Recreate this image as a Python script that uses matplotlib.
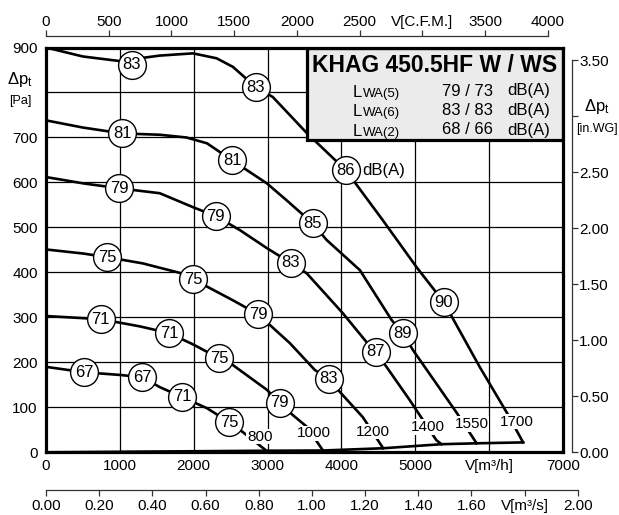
import matplotlib
matplotlib.use('Agg')
import matplotlib.pyplot as plt
from matplotlib.patches import Rectangle

# KHAG 450.5HF W / WS fan curves, V in m3/h, dp_t in Pa
rpm = [800, 1000, 1200, 1400, 1550, 1700]

v_800 = [0, 515, 1000, 1300, 1540, 1840, 2180, 2480, 2625, 2985]
p_800 = [190, 178, 172, 167, 145, 123, 98, 67, 50, 3.5]

v_1000 = [0, 740, 1270, 1665, 1990, 2345, 2530, 2990, 3165, 3340, 3530, 3750]
p_1000 = [303, 296, 280, 265, 240, 209, 194, 139, 110, 83, 57, 4]

v_1200 = [0, 500, 825, 1310, 1810, 1990, 2530, 2870, 3300, 3640, 3830, 3980, 4290, 4565]
p_1200 = [451, 442, 434, 420, 399, 385, 338, 307, 243, 183, 163, 134, 78, 9]

v_1400 = [0, 500, 988, 1540, 1990, 2300, 2625, 2990, 3315, 3530, 4020, 4340, 4465, 4610, 4925, 5285, 5355]
p_1400 = [612, 598, 587, 576, 545, 525, 494, 454, 421, 398, 309, 245, 223, 190, 116, 27, 18]

v_1550 = [0, 500, 1030, 1540, 1900, 2180, 2520, 2990, 3260, 3610, 3800, 4250, 4680, 4830, 4970, 5560, 5830]
p_1550 = [738, 722, 709, 706, 700, 687, 649, 598, 560, 509, 472, 405, 294, 265, 227, 88, 20]

v_1700 = [0, 500, 990, 1540, 1990, 2310, 2530, 2840, 3070, 3300, 3530, 4060, 4560, 5020, 5385, 5875, 6240, 6460]
p_1700 = [900, 880, 870, 882, 887, 876, 857, 812, 790, 750, 710, 627, 516, 411, 334, 189, 88, 22]

# system line through the curve ends
sys_v = [0, 2985, 3750, 4565, 5355, 5830, 6460]
sys_p = [0, 3.5, 4, 9, 18, 20, 22]

# sound power markers (dB(A)) on each curve
db_800, db_800_v, db_800_p = [67, 67, 71, 75], [515, 1300, 1840, 2480], [178, 167, 123, 67]
db_1000, db_1000_v, db_1000_p = [71, 71, 75, 79], [740, 1665, 2345, 3165], [296, 265, 209, 110]
db_1200, db_1200_v, db_1200_p = [75, 75, 79, 83], [825, 1990, 2870, 3830], [434, 385, 307, 163]
db_1400, db_1400_v, db_1400_p = [79, 79, 83, 87], [988, 2300, 3315, 4465], [587, 525, 421, 223]
db_1550, db_1550_v, db_1550_p = [81, 81, 85, 89], [1030, 2520, 3615, 4830], [709, 649, 509, 265]
db_1700, db_1700_v, db_1700_p = [83, 83, 86, 90], [1164, 2842, 4060, 5385], [862, 812, 627, 334]

# rpm label positions
rpm_label_v = [2896, 3626, 4430, 5175, 5760, 6380]
rpm_label_p = [35, 42, 46, 56, 63, 68]

# legend table
title = 'KHAG 450.5HF W / WS'
lwa_names = ['(5)', '(6)', '(2)']
lwa_values = ['79 / 73', '83 / 83', '68 / 66']

# unit conversions
CFM = 1.699        # m3/h per CFM
M3S = 3600.0       # m3/h per m3/s
INWG = 249.09      # Pa per in.WG

plt.rcParams.update({
    'font.family': ['Liberation Sans', 'DejaVu Sans'],
    'font.size': 11,
    'mathtext.default': 'regular',
})

W, H = 619, 515
fig = plt.figure(figsize=(W / 100, H / 100), dpi=100)


def box(l, t, r, b):
    return [l / W, 1 - b / H, (r - l) / W, (b - t) / H]


X0, X1, Y0, Y1 = 46, 563, 452.3, 47.5
ax = fig.add_axes(box(X0, Y1, X1, Y0))
ax.set_xlim(0, 7000)
ax.set_ylim(0, 900)

ax.set_xticks(range(0, 7001, 1000))
ax.set_xticklabels(['0', '1000', '2000', '3000', '4000', '5000', 'V[m³/h]', '7000'])
ax.set_yticks(range(0, 901, 100))
ax.set_yticklabels(['0', '100', '200', '300', '400', '500', '600', '700', '', '900'])
ax.tick_params(axis='x', length=0, pad=5)
ax.tick_params(axis='y', length=0, pad=6)
ax.grid(True, color='black', linewidth=0.9)
ax.set_axisbelow(True)
for s in ax.spines.values():
    s.set_linewidth(2.3)
    s.set_zorder(10)

curves = [(v_800, p_800), (v_1000, p_1000), (v_1200, p_1200),
          (v_1400, p_1400), (v_1550, p_1550), (v_1700, p_1700)]
for v, p in curves:
    ax.plot(v, p, color='black', linewidth=1.9, solid_joinstyle='round', zorder=2)
ax.plot(sys_v, sys_p, color='black', linewidth=1.9, zorder=2)

dbs = [(db_800, db_800_v, db_800_p), (db_1000, db_1000_v, db_1000_p),
       (db_1200, db_1200_v, db_1200_p), (db_1400, db_1400_v, db_1400_p),
       (db_1550, db_1550_v, db_1550_p), (db_1700, db_1700_v, db_1700_p)]
for vals, v, p in dbs:
    ax.plot(v, p, 'o', ms=20, mfc='white', mec='black', mew=1.0, zorder=3)
    for val, x, y in zip(vals, v, p):
        ax.text(x, y, str(val), ha='center', va='center', fontsize=12, zorder=4)
ax.annotate('dB(A)', xy=(db_1700_v[2], db_1700_p[2]), xytext=(11.5, 0),
            textcoords='offset points', ha='left', va='center', fontsize=12, zorder=4)

for n, x, y in zip(rpm, rpm_label_v, rpm_label_p):
    ax.text(x, y, str(n), ha='center', va='center', fontsize=11, zorder=4,
            bbox=dict(boxstyle='square,pad=0.05', fc='white', ec='none'))

# legend table
ax.add_patch(Rectangle((0.505, 0.771), 0.495, 0.229, transform=ax.transAxes,
                       fc='#ebebeb', ec='black', lw=2.3, zorder=6))
fig.text(435 / W, 1 - 66 / H, title, ha='center', va='center',
         fontsize=16.5, fontweight='bold', zorder=7)
for i, (name, val) in enumerate(zip(lwa_names, lwa_values)):
    y = 1 - (91 + 19.5 * i) / H
    fig.text(353 / W, y, 'L', ha='left', va='baseline', fontsize=12,
             transform=fig.transFigure).set_y(y - 6 / H)
    fig.text(362.5 / W, y - 6 / H, 'WA' + name, ha='left', va='baseline', fontsize=9.5)
    fig.text(442 / W, y, val, ha='left', va='center', fontsize=12)
    fig.text(507 / W, y, 'dB(A)', ha='left', va='center', fontsize=12)


def side_axis(rect):
    a = fig.add_axes(rect)
    a.patch.set_visible(False)
    for s in a.spines.values():
        s.set_visible(False)
    return a


# top axis: C.F.M.
ax_cfm = side_axis(box(X0, 36, X0 + (X1 - X0) * 4000 * CFM / 7000, 36.01))
ax_cfm.set_xlim(0, 4000)
ax_cfm.set_yticks([])
ax_cfm.spines['top'].set_visible(True)
ax_cfm.spines['top'].set_linewidth(0.9)
ax_cfm.spines['top'].set_color('#333333')
ax_cfm.xaxis.set_ticks_position('top')
ax_cfm.set_xticks(range(0, 4001, 500))
ax_cfm.set_xticklabels(['0', '500', '1000', '1500', '2000', '2500', 'V[C.F.M.]', '3500', '4000'])
ax_cfm.tick_params(axis='x', direction='out', length=4.3, width=0.9, color='#333333', pad=1)

# bottom axis: m3/s
ax_m3s = side_axis(box(X0, 490, X0 + (X1 - X0) * 2.0 * M3S / 7000, 490.01))
ax_m3s.set_xlim(0, 2.0)
ax_m3s.set_yticks([])
ax_m3s.spines['bottom'].set_visible(True)
ax_m3s.spines['bottom'].set_linewidth(0.9)
ax_m3s.spines['bottom'].set_color('#333333')
m3s_ticks = [0.0, 0.2, 0.4, 0.6, 0.8, 1.0, 1.2, 1.4, 1.6, 1.8, 2.0]
ax_m3s.set_xticks(m3s_ticks)
ax_m3s.set_xticklabels([f'{t:.2f}' for t in m3s_ticks[:9]] + ['V[m³/s]', '2.00'])
ax_m3s.tick_params(axis='x', direction='out', length=4.3, width=0.9, color='#333333', pad=2)

# right axis: in.WG
ax_wg = side_axis(box(572, Y0 - (Y0 - Y1) * 3.5 * INWG / 900, 572.01, Y0))
ax_wg.set_ylim(0, 3.5)
ax_wg.set_xticks([])
ax_wg.spines['right'].set_visible(True)
ax_wg.spines['right'].set_linewidth(0.9)
ax_wg.spines['right'].set_color('#333333')
ax_wg.yaxis.set_ticks_position('right')
wg_ticks = [0.0, 0.5, 1.0, 1.5, 2.0, 2.5, 3.0, 3.5]
ax_wg.set_yticks(wg_ticks)
ax_wg.set_yticklabels([f'{t:.2f}' if t != 3.0 else '' for t in wg_ticks])
ax_wg.tick_params(axis='y', direction='out', length=4.3, width=0.9, color='#333333', pad=1)

# axis titles
fig.text(20 / W, 1 - 80 / H, 'Δp$_t$', ha='center', va='center', fontsize=12)
fig.text(20 / W, 1 - 101 / H, '[Pa]', ha='center', va='center', fontsize=9)
fig.text(597 / W, 1 - 107 / H, 'Δp$_t$', ha='center', va='center', fontsize=12)
fig.text(597 / W, 1 - 129 / H, '[in.WG]', ha='center', va='center', fontsize=9)

fig.savefig('out.png', dpi=100)
